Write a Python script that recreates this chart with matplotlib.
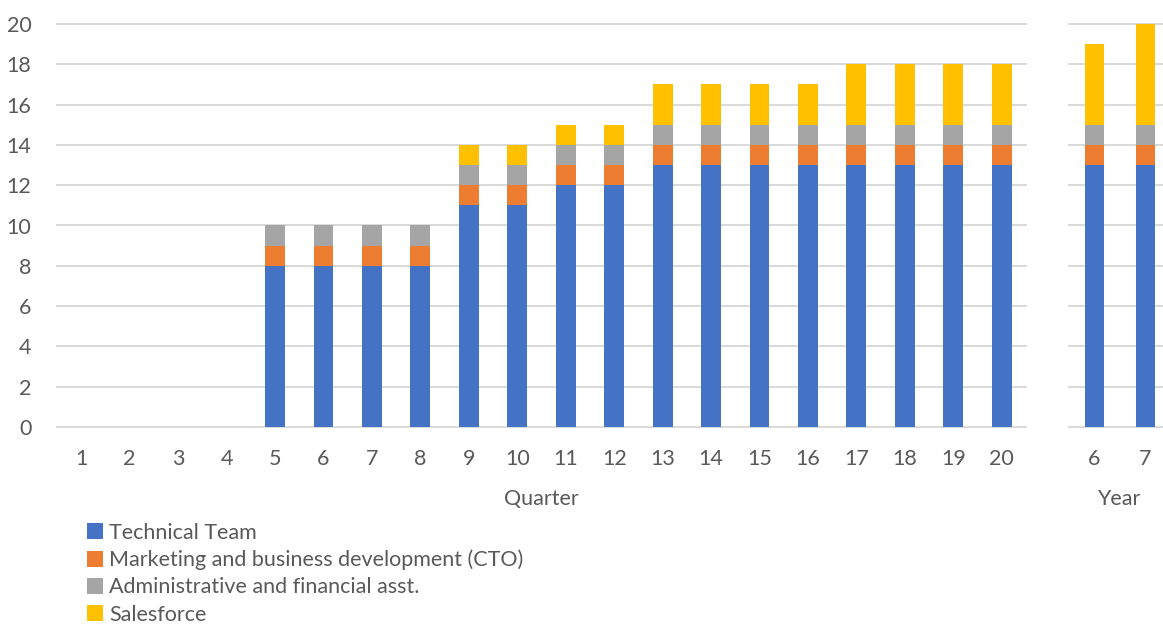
import matplotlib
matplotlib.use("Agg")
import matplotlib.pyplot as plt
import numpy as np

# Headcount plan: quarterly (1-20) and yearly (6-7)
quarters = list(range(1, 21))
years = [6, 7]
series_names = [
    "Technical Team",
    "Marketing and business development (CTO)",
    "Administrative and financial asst.",
    "Salesforce",
]
technical_q = [0, 0, 0, 0, 8, 8, 8, 8, 11, 11, 12, 12, 13, 13, 13, 13, 13, 13, 13, 13]
marketing_q = [0, 0, 0, 0, 1, 1, 1, 1, 1, 1, 1, 1, 1, 1, 1, 1, 1, 1, 1, 1]
admin_q = [0, 0, 0, 0, 1, 1, 1, 1, 1, 1, 1, 1, 1, 1, 1, 1, 1, 1, 1, 1]
sales_q = [0, 0, 0, 0, 0, 0, 0, 0, 1, 1, 1, 1, 2, 2, 2, 2, 3, 3, 3, 3]
technical_y = [13, 13]
marketing_y = [1, 1]
admin_y = [1, 1]
sales_y = [4, 5]
y_ticks = list(range(0, 21, 2))

colors = ["#4472C4", "#ED7D31", "#A5A5A5", "#FFC000"]
text_color = "#595959"
grid_color = "#D9D9D9"
plt.rcParams["font.family"] = ["Lato", "DejaVu Sans"]
fs = 15.5

fig = plt.figure(figsize=(11.63, 6.24), dpi=100)
ax1 = fig.add_axes([57 / 1163, 1 - 427 / 624, (1026 - 57) / 1163, (427 - 24) / 624])
ax2 = fig.add_axes([1069 / 1163, 1 - 427 / 624, (1163 - 1069) / 1163, (427 - 24) / 624])


def stacked(ax, x, stacks, width):
    bottom = np.zeros(len(x))
    handles = []
    for vals, c, name in zip(stacks, colors, series_names):
        vals = np.array(vals, dtype=float)
        h = ax.bar(x, vals, width, bottom=bottom, color=c, label=name,
                   linewidth=0, zorder=3)
        handles.append(h)
        bottom += vals
    return handles


handles = stacked(ax1, quarters, [technical_q, marketing_q, admin_q, sales_q], 0.41)
stacked(ax2, years, [technical_y, marketing_y, admin_y, sales_y], 0.39)

for ax in (ax1, ax2):
    ax.set_ylim(0, 20)
    ax.set_yticks(y_ticks)
    ax.yaxis.grid(True, color=grid_color, linewidth=1.4, zorder=0)
    ax.set_axisbelow(True)
    for s in ax.spines.values():
        s.set_visible(False)
    ax.tick_params(axis="both", length=0, colors=text_color, labelsize=fs)
    for line in ax.get_ygridlines():
        line.set_clip_on(False)

ax1.set_xlim(0.5, 20.5)
ax1.set_xticks(quarters)
ax1.tick_params(axis="y", pad=18.5)
ax1.tick_params(axis="x", pad=15.5)
ax1.set_xlabel("Quarter", color=text_color, fontsize=fs)
ax1.xaxis.set_label_coords(0.5, -0.155)

ax2.set_xlim(5.5, 5.5 + (1163 - 1069) / 51.0)
ax2.set_xticks(years)
ax2.tick_params(axis="y", labelleft=False)
ax2.tick_params(axis="x", pad=15.5)
ax2.set_xlabel("Year", color=text_color, fontsize=fs)
ax2.xaxis.set_label_coords((1119 - 1069) / (1163 - 1069), -0.155)

leg = fig.legend(handles=handles, loc="upper left",
                 bbox_to_anchor=(78 / 1163, 1 - 514 / 624),
                 frameon=False, fontsize=fs, labelcolor=text_color,
                 handlelength=0.75, handleheight=0.75, handletextpad=0.3,
                 labelspacing=0.33, borderaxespad=0)

fig.savefig("out.png", dpi=100, facecolor="white")
